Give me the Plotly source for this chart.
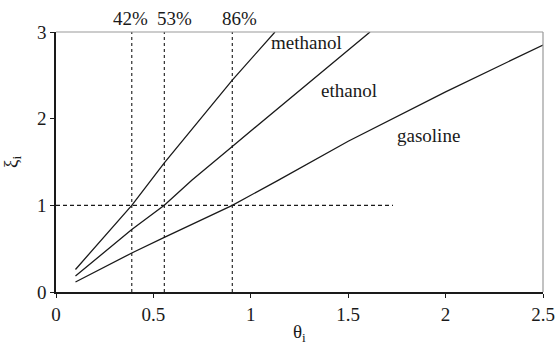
import plotly.graph_objects as go

# Data
methanol_x = [0.1, 0.389, 0.556, 0.905, 1.124]
methanol_y = [0.26, 1.0, 1.49, 2.445, 3.0]
ethanol_x = [0.1, 0.389, 0.556, 0.697, 0.905, 1.145, 1.612]
ethanol_y = [0.185, 0.72, 1.0, 1.29, 1.68, 2.13, 3.0]
gasoline_x = [0.1, 0.389, 0.556, 0.905, 1.133, 1.5, 2.0, 2.5]
gasoline_y = [0.115, 0.45, 0.63, 1.0, 1.28, 1.74, 2.31, 2.85]

cross_x = [0.389, 0.556, 0.905]
cross_labels = ["42%", "53%", "86%"]
cross_label_x = [0.38, 0.61, 0.94]
hline_x = [0.0, 1.73]
hline_y = [1.0, 1.0]

curve_labels = ["methanol", "ethanol", "gasoline"]
curve_label_x = [1.284, 1.504, 1.91]
curve_label_y = [2.875, 2.33, 1.81]

x_ticks = [0, 0.5, 1, 1.5, 2, 2.5]
x_tick_text = ["0", "0.5", "1", "1.5", "2", "2.5"]
y_ticks = [0, 1, 2, 3]
y_tick_text = ["0", "1", "2", "3"]

FONT = "'Liberation Serif', 'Times New Roman', Times, serif"
LC = "#1a1a1a"
FS = 19

fig = go.Figure()
for xs, ys in [(methanol_x, methanol_y), (ethanol_x, ethanol_y), (gasoline_x, gasoline_y)]:
    fig.add_trace(go.Scatter(x=xs, y=ys, mode="lines",
                             line=dict(color=LC, width=1.3), showlegend=False,
                             hoverinfo="skip"))

for cx in cross_x:
    fig.add_trace(go.Scatter(x=[cx, cx], y=[0, 3], mode="lines",
                             line=dict(color=LC, width=1.1, dash="dot"),
                             showlegend=False, hoverinfo="skip"))

fig.add_trace(go.Scatter(x=hline_x, y=hline_y, mode="lines",
                         line=dict(color=LC, width=1.1, dash="4px,3px"),
                         showlegend=False, hoverinfo="skip"))

for t, lx in zip(cross_labels, cross_label_x):
    fig.add_annotation(x=lx, y=3.0, yshift=1, text=t, showarrow=False,
                       yanchor="bottom", xanchor="center",
                       font=dict(family=FONT, size=FS, color=LC))

for t, lx, ly in zip(curve_labels, curve_label_x, curve_label_y):
    fig.add_annotation(x=lx, y=ly, text=t, showarrow=False,
                       xanchor="center", yanchor="middle",
                       font=dict(family=FONT, size=FS, color=LC))

# axis titles
fig.add_annotation(xref="paper", yref="paper", x=0.5, y=0, yshift=-27,
                   text="θ<sub>i</sub>", showarrow=False, xanchor="center",
                   yanchor="top", font=dict(family=FONT, size=FS, color=LC))
fig.add_annotation(xref="paper", yref="paper", x=0, xshift=-44, y=0.5,
                   text="ξ<sub>i</sub>", showarrow=False, textangle=-90,
                   xanchor="center", yanchor="middle",
                   font=dict(family=FONT, size=FS, color=LC))

# gray top and right frame
fig.add_shape(type="line", xref="paper", yref="paper", x0=0, x1=1, y0=1, y1=1,
              line=dict(color="#999999", width=1.2))
fig.add_shape(type="line", xref="paper", yref="paper", x0=1, x1=1, y0=0, y1=1,
              line=dict(color="#999999", width=1.2))

fig.update_layout(
    width=558, height=345,
    margin=dict(l=56, r=15, t=32, b=53, autoexpand=False),
    paper_bgcolor="white", plot_bgcolor="white",
    font=dict(family=FONT, size=FS, color=LC),
    xaxis=dict(range=[0, 2.5], tickvals=x_ticks, ticktext=x_tick_text,
               showgrid=False, zeroline=False, showline=True, automargin=False,
               linecolor=LC, linewidth=1.5, ticks="outside", ticklen=4,
               tickcolor=LC, tickfont=dict(family=FONT, size=FS, color=LC)),
    yaxis=dict(range=[0, 3], tickvals=y_ticks, ticktext=y_tick_text,
               showgrid=False, zeroline=False, showline=True, automargin=False,
               linecolor=LC, linewidth=1.5, ticks="outside", ticklen=4,
               tickcolor=LC, tickfont=dict(family=FONT, size=FS, color=LC)),
)

fig.write_html("out.html", config={"displayModeBar": False},
               post_script="document.body.style.margin='0';document.body.style.overflow='hidden';")
